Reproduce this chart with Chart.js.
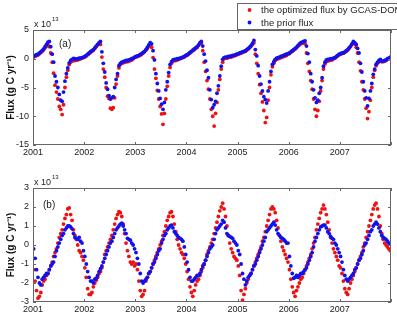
<!DOCTYPE html>
<html><head><meta charset="utf-8">
<script src="https://cdn.jsdelivr.net/npm/chart.js@4/dist/chart.umd.min.js"></script>
<style>
html,body{margin:0;padding:0;background:#fff;}
#wrap{position:relative;width:397px;height:314px;overflow:hidden;background:#fff}
canvas{position:absolute;left:0}
#c1{top:0}
#c2{top:157px}
</style></head><body>
<div id="wrap">
<canvas id="c1" width="397" height="157"></canvas>
<canvas id="c2" width="397" height="157"></canvas>
</div>
<script>
// ---- data (units of 1e13 g C / yr), 36 samples per year, 2001-2007 ----
const yearLabels = ['2001','2002','2003','2004','2005','2006','2007'];
const samplesPerYear = 36;
const seriesNames = ['the optimized flux by GCAS-DOM', 'the prior flux'];
const axisTitle = 'Flux (g C yr\u207B\u00B9)';
const panelLabels = ['(a)', '(b)'];

const topOptimized = [
 0.3,0.45,0.55,0.65,0.85,1.05,1.3,1.55,1.9,2.2,2.4,2.1,1.0,-0.6,-2.5,-4.6,-5.8,-7.0,-8.3,-8.8,-9.7,-8.0,-5.0,-3.2,-2.0,-1.0,-0.6,-0.4,-0.3,-0.3,-0.2,-0.2,-0.1,0.0,0.1,0.2,
 0.3,0.5,0.7,0.9,1.1,1.3,1.5,1.8,2.1,2.4,2.6,2.5,0.3,-1.8,-3.2,-5.0,-6.5,-6.9,-8.6,-8.8,-8.5,-6.8,-4.4,-3.0,-1.6,-1.0,-0.8,-0.7,-0.6,-0.5,-0.5,-0.4,-0.3,-0.2,0.0,0.2,
 0.3,0.4,0.5,0.6,0.8,1.0,1.2,1.5,1.8,2.2,2.5,2.0,0.2,-1.8,-3.4,-5.5,-7.0,-8.3,-9.6,-11.4,-9.5,-7.0,-4.8,-3.0,-1.5,-0.8,-0.4,-0.3,-0.3,-0.2,-0.1,0.0,0.1,0.2,0.3,0.5,
 0.6,0.8,1.0,1.2,1.4,1.6,1.8,2.0,2.3,2.6,2.7,1.4,-0.6,-2.2,-3.8,-5.3,-7.0,-8.8,-10.0,-11.7,-9.5,-7.6,-5.4,-3.6,-1.8,-0.6,0.0,0.1,0.1,0.2,0.3,0.3,0.4,0.5,0.6,0.7,
 0.8,0.9,1.0,1.1,1.2,1.3,1.5,1.7,1.9,2.2,2.5,2.8,0.8,-0.8,-2.6,-4.5,-6.0,-7.5,-9.0,-11.1,-10.2,-7.2,-5.0,-2.8,-1.4,-0.8,-0.3,-0.1,0.0,0.1,0.2,0.3,0.4,0.5,0.6,0.8,
 0.9,1.1,1.3,1.5,1.7,1.9,2.2,2.4,2.6,2.7,2.8,2.6,1.0,-0.8,-2.2,-3.8,-5.3,-7.0,-8.8,-10.0,-9.0,-7.4,-5.6,-3.8,-1.8,-0.9,-0.5,-0.4,-0.3,-0.2,-0.2,0.0,0.1,0.3,0.5,0.7,
 0.8,0.9,1.0,1.1,1.3,1.5,1.8,2.1,2.5,2.8,2.6,2.0,1.0,-0.6,-2.1,-4.0,-5.4,-7.0,-8.6,-10.4,-9.2,-7.2,-5.0,-3.2,-2.0,-1.2,-0.8,-0.5,-0.3,-0.5,-0.5,-0.4,-0.3,-0.1,0.0,0.2
];
const topPrior = [
 0.45,0.6,0.7,0.8,1.0,1.2,1.45,1.7,2.1,2.5,2.9,3.0,2.1,0.8,-0.6,-3.0,-4.0,-5.0,-6.2,-7.2,-7.4,-5.8,-3.9,-2.6,-1.6,-0.7,-0.3,-0.1,0.05,0.0,-0.1,0.0,0.1,0.1,0.2,0.3,
 0.4,0.6,0.8,1.0,1.25,1.4,1.6,1.9,2.2,2.5,2.8,3.0,1.2,-0.8,-2.3,-4.2,-5.3,-6.4,-7.0,-6.8,-6.6,-5.0,-3.6,-2.6,-1.2,-0.8,-0.6,-0.5,-0.4,-0.3,-0.3,-0.2,-0.1,0.0,0.1,0.3,
 0.4,0.5,0.6,0.75,0.9,1.1,1.3,1.6,2.0,2.4,2.8,2.6,1.4,-0.2,-2.6,-4.3,-5.6,-6.9,-7.9,-8.8,-7.6,-5.4,-4.0,-2.4,-1.0,-0.5,-0.2,-0.1,-0.1,0.0,0.0,0.1,0.2,0.3,0.4,0.6,
 0.7,0.9,1.1,1.3,1.5,1.7,1.9,2.1,2.4,2.8,3.0,2.2,0.8,-0.4,-2.0,-3.3,-5.4,-7.1,-8.5,-8.0,-7.4,-6.0,-4.7,-3.0,-1.3,-0.1,0.2,0.3,0.3,0.4,0.4,0.5,0.6,0.6,0.7,0.8,
 0.9,1.0,1.1,1.2,1.3,1.4,1.6,1.8,2.0,2.3,2.7,3.2,1.6,0.5,-1.2,-3.0,-4.4,-5.6,-6.6,-7.1,-7.7,-5.6,-4.0,-2.2,-1.0,-0.5,-0.1,0.1,0.2,0.3,0.4,0.5,0.6,0.7,0.8,0.9,
 1.0,1.2,1.4,1.6,1.8,2.0,2.3,2.6,2.8,2.9,3.0,3.1,2.2,0.9,-0.6,-2.6,-4.0,-5.4,-6.8,-7.6,-7.2,-6.0,-5.0,-3.3,-1.3,-0.6,-0.2,-0.1,-0.1,0.0,0.0,0.1,0.2,0.4,0.6,0.8,
 0.9,1.0,1.0,1.2,1.4,1.6,1.9,2.2,2.6,3.0,2.8,2.5,1.8,1.0,-0.8,-2.3,-4.0,-5.6,-6.8,-8.2,-6.9,-5.6,-4.3,-2.7,-1.8,-1.0,-0.6,-0.3,-0.1,-0.4,-0.4,-0.3,-0.2,0.0,0.1,0.3
];
const bottomOptimized = [
 -1.3,-1.9,-2.4,-2.8,-2.7,-2.5,-2.1,-1.9,-1.8,-1.6,-1.5,-1.3,-1.1,-0.9,-0.6,-0.4,-0.2,0.1,0.4,0.6,0.8,1.1,1.4,1.6,1.9,1.95,1.6,1.3,0.8,0.5,0.3,0.0,-0.3,-0.4,-0.6,-0.8,
 -1.2,-1.7,-2.3,-2.6,-2.6,-2.5,-2.2,-2.0,-1.85,-1.7,-1.5,-1.4,-1.2,-0.9,-0.5,-0.3,-0.1,0.1,0.3,0.5,0.8,1.1,1.4,1.6,1.75,1.7,1.5,1.1,0.6,0.1,-0.3,-0.6,-0.9,-1.0,-0.9,-1.1,
 -1.0,-1.3,-1.9,-2.4,-2.7,-2.6,-2.4,-1.9,-1.7,-1.5,-1.4,-1.2,-1.0,-0.8,-0.6,-0.4,-0.2,0.0,0.2,0.5,0.7,1.0,1.3,1.5,1.7,1.75,1.5,1.1,0.7,0.3,0.0,-0.2,-0.4,-0.5,-0.7,-1.0,
 -1.4,-1.8,-2.2,-2.5,-2.7,-2.4,-2.1,-1.9,-1.8,-1.6,-1.4,-1.2,-1.0,-0.8,-0.5,-0.3,-0.1,0.1,0.3,0.6,0.9,1.2,1.5,1.8,2.0,2.2,1.9,1.5,1.0,0.5,0.1,-0.2,-0.4,-0.6,-0.7,-0.8,
 -1.1,-1.6,-2.4,-2.9,-2.6,-2.3,-2.0,-1.8,-1.6,-1.5,-1.3,-1.1,-0.9,-0.7,-0.5,-0.3,-0.1,0.2,0.4,0.7,1.0,1.3,1.6,1.9,2.0,1.9,1.7,1.3,0.9,0.5,0.2,-0.1,-0.3,-0.5,-0.7,-0.9,
 -1.3,-1.8,-2.2,-2.5,-2.7,-2.4,-2.2,-2.0,-1.8,-1.7,-1.5,-1.3,-1.1,-0.9,-0.7,-0.5,-0.2,0.1,0.4,0.8,1.1,1.4,1.7,1.9,2.1,1.9,1.6,1.2,0.8,0.4,0.1,-0.2,-0.4,-0.6,-0.8,-1.1,
 -1.2,-1.5,-1.9,-2.3,-2.5,-2.6,-2.3,-2.0,-1.8,-1.6,-1.4,-1.2,-1.0,-0.8,-0.6,-0.4,-0.1,0.1,0.4,0.7,1.0,1.3,1.6,1.9,2.1,2.2,1.9,1.5,1.0,0.6,0.3,0.1,0.0,-0.1,-0.2,-0.3
];
const bottomPrior = [
 -0.2,-0.7,-1.3,-1.7,-2.0,-2.1,-1.8,-1.7,-1.6,-1.5,-1.5,-1.3,-1.1,-1.0,-0.9,-0.6,-0.3,-0.1,0.1,0.3,0.5,0.6,0.8,0.9,1.0,1.0,0.95,0.85,0.6,0.4,0.35,0.3,0.4,0.2,0.1,-0.3,
 -0.6,-1.0,-1.4,-1.7,-1.9,-1.9,-2.0,-1.8,-1.75,-1.6,-1.4,-1.25,-1.1,-0.9,-0.7,-0.5,-0.3,-0.1,0.1,0.2,0.4,0.6,0.8,0.9,1.0,1.1,1.15,1.0,0.8,0.6,0.35,0.3,0.25,0.1,0.0,-0.2,
 -0.4,-0.7,-1.0,-1.5,-1.9,-2.0,-1.9,-1.8,-1.7,-1.5,-1.4,-1.2,-1.0,-0.9,-0.7,-0.5,-0.3,-0.2,0.1,0.3,0.5,0.6,0.8,0.9,1.0,1.05,0.9,0.7,0.6,0.5,0.4,0.35,0.3,0.2,-0.1,-0.5,
 -0.9,-1.3,-1.7,-1.9,-1.9,-1.8,-1.7,-1.6,-1.6,-1.5,-1.3,-1.1,-1.0,-0.8,-0.6,-0.4,-0.2,-0.1,0.0,0.3,0.6,0.8,0.9,1.0,1.1,1.3,1.2,0.9,0.6,0.5,0.45,0.4,0.35,0.2,0.1,0.0,
 -0.3,-0.5,-1.0,-1.5,-1.8,-2.1,-1.9,-1.7,-1.6,-1.5,-1.3,-1.1,-1.0,-0.8,-0.6,-0.4,-0.2,0.0,0.2,0.4,0.7,0.8,0.9,1.0,1.1,1.2,1.05,0.8,0.6,0.5,0.4,0.35,0.3,0.2,0.1,0.1,
 -0.6,-1.1,-1.5,-1.75,-1.7,-1.6,-1.7,-1.6,-1.5,-1.5,-1.4,-1.3,-1.2,-1.0,-0.8,-0.6,-0.4,-0.1,0.2,0.4,0.6,0.8,0.95,1.0,1.05,1.05,0.9,0.7,0.6,0.45,0.35,0.3,0.1,0.0,-0.2,-0.4,
 -0.6,-0.9,-1.3,-1.6,-1.8,-1.9,-1.8,-1.7,-1.6,-1.5,-1.3,-1.2,-1.0,-0.8,-0.7,-0.5,-0.3,0.0,0.1,0.3,0.5,0.7,0.8,1.0,1.1,1.2,1.1,0.9,0.7,0.5,0.4,0.35,0.3,0.2,0.1,0.1
];

// sample times (mid-points of each 1/36-year interval)
const times = topPrior.map((_, i) => 2001 + (i + 0.5) / samplesPerYear);
const pts = arr => arr.map((v, i) => ({x: times[i], y: v}));

const RED = '#ee1111', BLUE = '#1111ee';
const FONT = '"Liberation Sans", Arial, Helvetica, sans-serif';

const deco = {
  id: 'deco',
  afterDraw(chart, args, o) {
    const {ctx, chartArea: a, scales: {x, y}} = chart;
    ctx.save();
    ctx.strokeStyle = '#666';
    ctx.lineWidth = 1;
    ctx.strokeRect(a.left + 0.5, a.top + 0.5, a.right - a.left - 1, a.bottom - a.top - 1);
    ctx.beginPath();
    x.ticks.forEach(t => {
      const px = Math.round(x.getPixelForValue(t.value)) + 0.5;
      ctx.moveTo(px, a.bottom); ctx.lineTo(px, a.bottom - 3);
      ctx.moveTo(px, a.top); ctx.lineTo(px, a.top + 3);
    });
    y.ticks.forEach(t => {
      const py = Math.round(y.getPixelForValue(t.value)) + 0.5;
      ctx.moveTo(a.left, py); ctx.lineTo(a.left + 3, py);
      ctx.moveTo(a.right, py); ctx.lineTo(a.right - 3, py);
    });
    ctx.stroke();
    ctx.fillStyle = '#222';
    ctx.textBaseline = 'alphabetic';
    ctx.textAlign = 'left';
    ctx.font = '9px ' + FONT;
    ctx.fillText('x 10', a.left + 1, a.top - 3);
    const w = ctx.measureText('x 10').width;
    ctx.font = '6px ' + FONT;
    ctx.fillText('13', a.left + 2 + w, a.top - 9);
    ctx.font = '10px ' + FONT;
    ctx.fillText(o.label, a.left + o.lx, a.top + o.ly);
    if (o.legend) {
      ctx.fillStyle = '#fff';
      ctx.fillRect(237, 3, 170, 26);
      ctx.strokeStyle = '#666';
      ctx.strokeRect(237.5, 3.5, 170, 26);
      const rows = [[RED, seriesNames[0], 10], [BLUE, seriesNames[1], 22.5]];
      rows.forEach(([c, txt, yy]) => {
        ctx.fillStyle = c;
        ctx.beginPath(); ctx.arc(249.5, yy, 1.9, 0, Math.PI * 2); ctx.fill();
        ctx.fillStyle = '#222';
        ctx.font = '9.5px ' + FONT;
        ctx.textBaseline = 'middle';
        ctx.fillText(txt, 261, yy + 0.5);
      });
    }
    ctx.restore();
  }
};

function makeChart(id, opt, prior, ymin, ymax, ystep, topPad, decoOpts) {
  return new Chart(document.getElementById(id), {
    type: 'scatter',
    data: {
      datasets: [
        {label: seriesNames[0], data: pts(opt), backgroundColor: RED, pointRadius: 1.9, pointBorderWidth: 0, order: 2},
        {label: seriesNames[1], data: pts(prior), backgroundColor: BLUE, pointRadius: 1.9, pointBorderWidth: 0, order: 1}
      ]
    },
    options: {
      responsive: false, animation: false, events: [],
      layout: {padding: {top: topPad, right: 6, left: 0, bottom: 0}},
      plugins: {legend: {display: false}, tooltip: {enabled: false}, deco: decoOpts},
      scales: {
        x: {
          type: 'linear', min: 2001, max: 2008,
          grid: {display: false, drawTicks: false}, border: {display: false},
          ticks: {stepSize: 1, autoSkip: false, maxRotation: 0, padding: 2, color: '#222',
                  font: {family: FONT, size: 9},
                  callback: v => yearLabels[Math.round(v) - 2001] || ''},
          afterFit: s => { s.height = 12; }
        },
        y: {
          min: ymin, max: ymax,
          grid: {display: false, drawTicks: false}, border: {display: false},
          ticks: {stepSize: ystep, padding: 4, color: '#222', font: {family: FONT, size: 9}},
          title: {display: true, text: axisTitle, color: '#111',
                  font: {family: FONT, size: 10, weight: 'bold'}, padding: {top: 5, bottom: 0}},
          afterFit: s => { s.width = 33; }
        }
      }
    },
    plugins: [deco]
  });
}

makeChart('c1', topOptimized, topPrior, -15, 5, 5, 30, {label: panelLabels[0], lx: 26, ly: 16.5, legend: true});
makeChart('c2', bottomOptimized, bottomPrior, -3, 3, 1, 31, {label: panelLabels[1], lx: 10, ly: 20, legend: false});
</script>
</body></html>
